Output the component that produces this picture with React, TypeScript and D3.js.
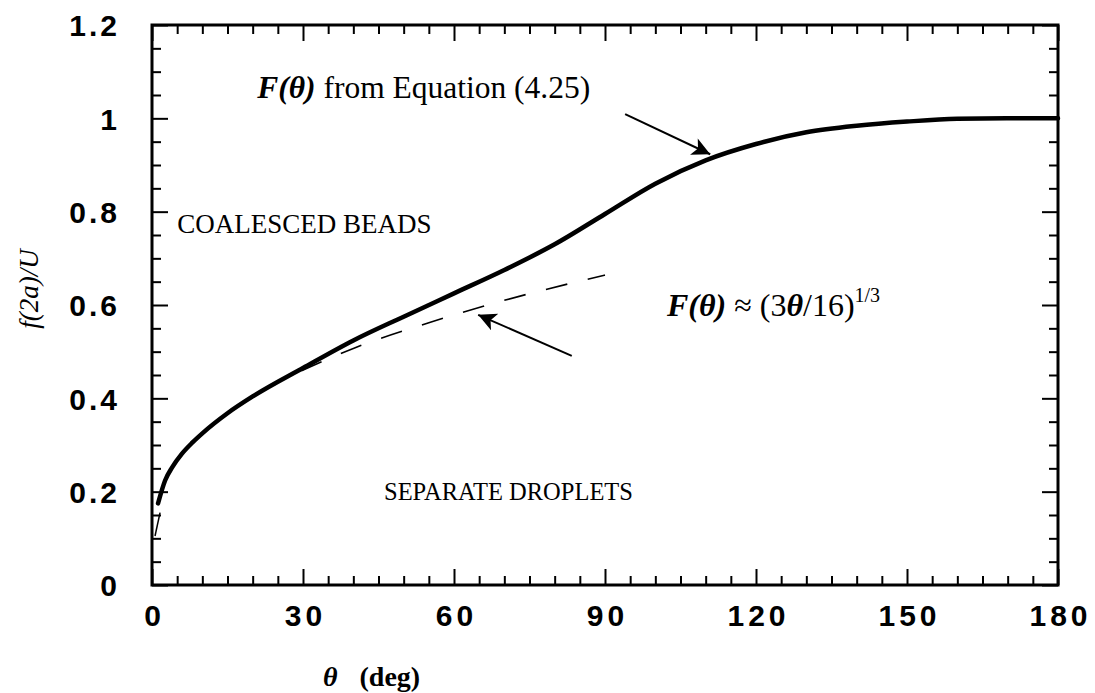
import React, { useEffect, useRef } from 'react';
import * as d3 from 'd3';

// F(theta) from Equation (4.25)
const theta = [1.2, 2.6, 4, 6, 8, 10, 15, 20, 30, 40, 50, 60, 70, 80, 90, 100, 110, 120, 130, 140, 150, 160, 170, 180];
const fValues = [0.175, 0.224, 0.252, 0.282, 0.305, 0.325, 0.368, 0.404, 0.465, 0.524, 0.575, 0.625, 0.675, 0.73, 0.795, 0.86, 0.91, 0.945, 0.97, 0.984, 0.993, 0.999, 1.0, 1.0];

// thin lead-in at the very start of the curve
const leadTheta = [0.6, 1.6];
const leadValues = [0.105, 0.155];

// approximation (3θ/16)^(1/3), dashed
const approxTheta = [22, 40, 55, 70, 90];
const approxValues = [0.419, 0.507, 0.562, 0.61, 0.664];

const xTicks = [0, 30, 60, 90, 120, 150, 180];
const xLabels = ['0', '30', '60', '90', '120', '150', '180'];
const yTicks = [0, 0.2, 0.4, 0.6, 0.8, 1, 1.2];
const yLabels = ['0', '0.2', '0.4', '0.6', '0.8', '1', '1.2'];

const width = 1095;
const height = 693;

const App: React.FC = () => {
    const ref = useRef<SVGSVGElement>(null);

    useEffect(() => {
        drawChart();
        // eslint-disable-next-line
    }, []);

    const drawChart = () => {
        const svg = d3.select(ref.current);
        svg.selectAll('*').remove();

        const left = 152, right = 1058, top = 25, bottom = 585;
        const x = d3.scaleLinear().domain([0, 180]).range([left, right]);
        const y = d3.scaleLinear().domain([0, 1.2]).range([bottom, top]);

        const sans = '"Liberation Sans", Arial, sans-serif';
        const serif = '"Liberation Serif", "Times New Roman", serif';

        const defs = svg.append('defs');
        defs.append('marker')
            .attr('id', 'head')
            .attr('viewBox', '0 0 10 10')
            .attr('refX', 10)
            .attr('refY', 5)
            .attr('markerUnits', 'userSpaceOnUse')
            .attr('markerWidth', 26)
            .attr('markerHeight', 18)
            .attr('orient', 'auto')
            .append('path')
            .attr('d', 'M0,0 L10,5 L0,10 L2.5,5 Z')
            .attr('fill', '#000');

        const minorX = d3.range(0, 181, 5).filter(v => v % 30 !== 0);
        const minorY = d3.range(0, 1.201, 0.05).filter(v => Math.abs(v / 0.2 - Math.round(v / 0.2)) > 0.01);

        const styleAxis = (g: d3.Selection<SVGGElement, unknown, null, undefined>) => {
            g.select('.domain').remove();
            g.selectAll('line').attr('stroke', '#000').attr('stroke-width', 2);
        };

        // bottom
        const gb = svg.append('g').attr('transform', `translate(0,${bottom})`);
        gb.call(d3.axisBottom(x).tickValues(xTicks).tickSizeInner(-16).tickSizeOuter(0)
            .tickFormat((d, i) => xLabels[i]).tickPadding(41));
        styleAxis(gb);
        gb.selectAll('text')
            .attr('font-family', sans).attr('font-weight', 'bold').attr('font-size', 30)
            .attr('letter-spacing', 4).attr('dy', 0).attr('dx', 2).attr('fill', '#000');
        const gbm = svg.append('g').attr('transform', `translate(0,${bottom})`);
        gbm.call(d3.axisBottom(x).tickValues(minorX).tickSizeInner(-9).tickSizeOuter(0).tickFormat(() => ''));
        styleAxis(gbm);

        // top
        const gt = svg.append('g').attr('transform', `translate(0,${top})`);
        gt.call(d3.axisTop(x).tickValues(xTicks).tickSizeInner(-16).tickSizeOuter(0).tickFormat(() => ''));
        styleAxis(gt);
        const gtm = svg.append('g').attr('transform', `translate(0,${top})`);
        gtm.call(d3.axisTop(x).tickValues(minorX).tickSizeInner(-9).tickSizeOuter(0).tickFormat(() => ''));
        styleAxis(gtm);

        // left
        const gl = svg.append('g').attr('transform', `translate(${left},0)`);
        gl.call(d3.axisLeft(y).tickValues(yTicks).tickSizeInner(-16).tickSizeOuter(0)
            .tickFormat((d, i) => yLabels[i]).tickPadding(32));
        styleAxis(gl);
        gl.selectAll('text')
            .attr('font-family', sans).attr('font-weight', 'bold').attr('font-size', 30)
            .attr('letter-spacing', 3).attr('dy', '0.36em').attr('fill', '#000');
        const glm = svg.append('g').attr('transform', `translate(${left},0)`);
        glm.call(d3.axisLeft(y).tickValues(minorY).tickSizeInner(-9).tickSizeOuter(0).tickFormat(() => ''));
        styleAxis(glm);

        // right
        const gr = svg.append('g').attr('transform', `translate(${right},0)`);
        gr.call(d3.axisRight(y).tickValues(yTicks).tickSizeInner(-16).tickSizeOuter(0).tickFormat(() => ''));
        styleAxis(gr);
        const grm = svg.append('g').attr('transform', `translate(${right},0)`);
        grm.call(d3.axisRight(y).tickValues(minorY).tickSizeInner(-9).tickSizeOuter(0).tickFormat(() => ''));
        styleAxis(grm);

        // frame
        svg.append('rect')
            .attr('x', left).attr('y', top)
            .attr('width', right - left).attr('height', bottom - top)
            .attr('fill', 'none').attr('stroke', '#000').attr('stroke-width', 3);

        // curves
        svg.append('path')
            .attr('d', d3.line<number>().x(d => x(d)).y((d, i) => y(approxValues[i])).curve(d3.curveMonotoneX)(approxTheta))
            .attr('fill', 'none').attr('stroke', '#000').attr('stroke-width', 1.6)
            .attr('stroke-dasharray', '22 21');

        svg.append('path')
            .attr('d', d3.line<number>().x(d => x(d)).y((d, i) => y(leadValues[i]))(leadTheta))
            .attr('fill', 'none').attr('stroke', '#000').attr('stroke-width', 1.5);

        svg.append('path')
            .attr('d', d3.line<number>().x(d => x(d)).y((d, i) => y(fValues[i])).curve(d3.curveMonotoneX)(theta))
            .attr('fill', 'none').attr('stroke', '#000').attr('stroke-width', 4.5)
            .attr('stroke-linecap', 'round');

        // arrows
        svg.append('line')
            .attr('x1', x(94)).attr('y1', y(1.009))
            .attr('x2', x(110.9)).attr('y2', y(0.923))
            .attr('stroke', '#000').attr('stroke-width', 2).attr('marker-end', 'url(#head)');
        svg.append('line')
            .attr('x1', x(83.4)).attr('y1', y(0.491))
            .attr('x2', x(64.8)).attr('y2', y(0.579))
            .attr('stroke', '#000').attr('stroke-width', 2).attr('marker-end', 'url(#head)');

        // annotations
        const t1 = svg.append('text')
            .attr('x', x(20.9)).attr('y', y(1.043))
            .attr('font-family', serif).attr('font-size', 31.5).attr('fill', '#000');
        t1.append('tspan').attr('font-style', 'italic').attr('font-weight', 'bold').text('F(θ)');
        t1.append('tspan').text(' from Equation (4.25)');

        svg.append('text')
            .attr('x', x(5)).attr('y', y(0.754))
            .attr('font-family', serif).attr('font-size', 27).attr('fill', '#000')
            .text('COALESCED BEADS');

        svg.append('text')
            .attr('x', x(46.1)).attr('y', y(0.182))
            .attr('font-family', serif).attr('font-size', 24.5).attr('fill', '#000')
            .text('SEPARATE DROPLETS');

        const t2 = svg.append('text')
            .attr('x', x(102.3)).attr('y', y(0.576))
            .attr('font-family', serif).attr('font-size', 32).attr('fill', '#000');
        t2.append('tspan').attr('font-style', 'italic').attr('font-weight', 'bold').text('F(θ)');
        t2.append('tspan').text(' ≈ (3');
        t2.append('tspan').attr('font-style', 'italic').attr('font-weight', 'bold').text('θ');
        t2.append('tspan').text('/16)');
        t2.append('tspan').attr('font-size', 20).attr('dy', -14).text('1/3');

        // axis titles
        svg.append('text')
            .attr('transform', `translate(38,289) rotate(-90)`)
            .attr('text-anchor', 'middle')
            .attr('font-family', serif).attr('font-style', 'italic').attr('font-size', 27).attr('fill', '#000')
            .text('f(2a)/U');

        const xt = svg.append('text')
            .attr('x', 323).attr('y', 686)
            .attr('font-family', serif).attr('font-weight', 'bold').attr('font-size', 28).attr('fill', '#000');
        xt.append('tspan').attr('font-style', 'italic').text('θ');
        xt.append('tspan').attr('dx', 22).text('(deg)');
    };

    return (
        <svg ref={ref} width={width} height={height}
            style={{ position: 'absolute', left: 0, top: 0, background: '#fff' }}>
        </svg>
    );
};

export default App;
